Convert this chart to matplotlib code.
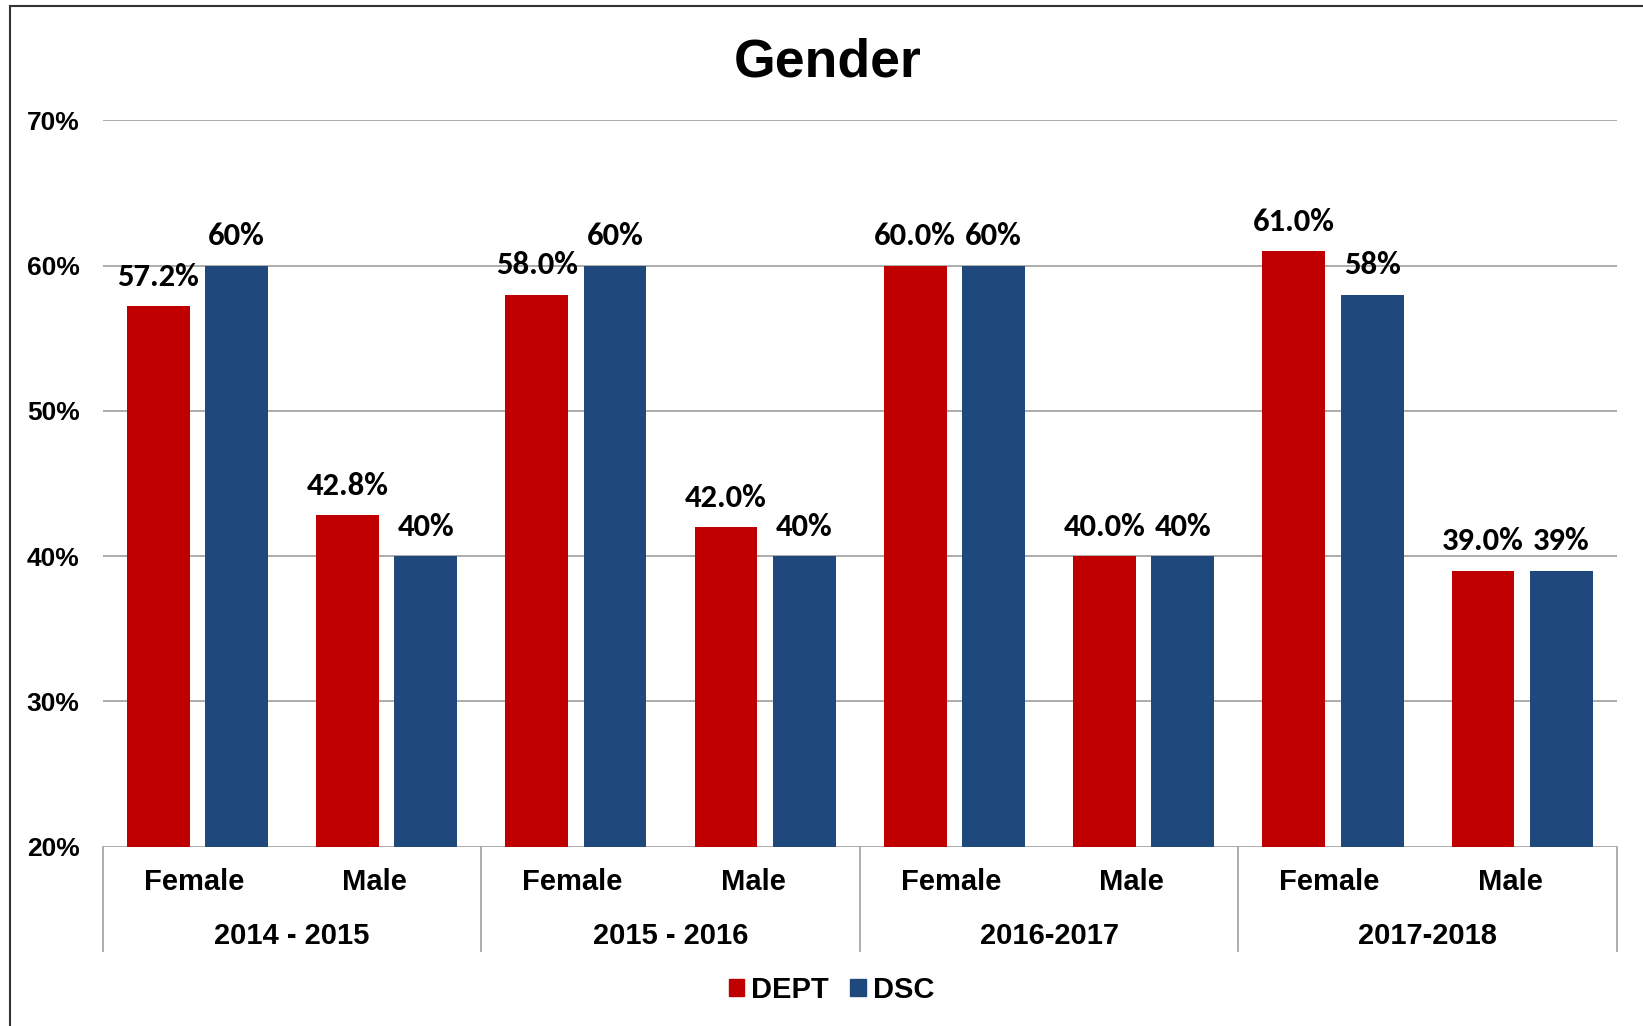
import matplotlib
matplotlib.use("Agg")
import matplotlib.pyplot as plt
from matplotlib.patches import Patch, Rectangle
from matplotlib.lines import Line2D
import numpy as np

years = ["2014 - 2015", "2015 - 2016", "2016-2017", "2017-2018"]
genders = ["Female", "Male"]
dept = [57.2, 42.8, 58.0, 42.0, 60.0, 40.0, 61.0, 39.0]
dsc = [60, 40, 60, 40, 60, 40, 58, 39]
dept_labels = ["57.2%", "42.8%", "58.0%", "42.0%", "60.0%", "40.0%", "61.0%", "39.0%"]
dsc_labels = ["60%", "40%", "60%", "40%", "60%", "40%", "58%", "39%"]

red = "#C00000"
blue = "#1F497D"
grid_c = "#A6A6A6"
arial = ["Liberation Sans", "DejaVu Sans"]
calibri = ["Carlito", "Lato", "DejaVu Sans"]

fig = plt.figure(figsize=(16.43, 10.26), dpi=100)
ax = fig.add_axes([0.0625, 0.1749, 0.9216, 0.7077])

x = np.arange(len(dept))
off = 0.207
w = 0.332
ax.bar(x - off, [v - 20 for v in dept], w, bottom=20, color=red, zorder=3)
ax.bar(x + off, [v - 20 for v in dsc], w, bottom=20, color=blue, zorder=3)

for i in range(len(x)):
    ax.annotate(dept_labels[i], (x[i] - off, dept[i]), xytext=(0, 14.6),
                textcoords="offset points", ha="center", va="baseline",
                fontsize=23.5, fontweight="bold", family=calibri)
    ax.annotate(dsc_labels[i], (x[i] + off, dsc[i]), xytext=(0, 14.6),
                textcoords="offset points", ha="center", va="baseline",
                fontsize=23.5, fontweight="bold", family=calibri)

ax.set_xlim(-0.5, len(x) - 0.5)
ax.set_ylim(20, 70)
ax.set_yticks([20, 30, 40, 50, 60, 70])
ax.set_yticklabels([f"{t}%" for t in [20, 30, 40, 50, 60, 70]],
                   fontsize=19, fontweight="bold", family=arial)
ax.tick_params(axis="y", length=0, pad=16.6)
ax.set_xticks([])
for s in ax.spines.values():
    s.set_visible(False)
ax.yaxis.grid(True, color=grid_c, linewidth=1.3, zorder=0)
ax.set_axisbelow(True)

# Excel nudges the gender labels a bit to the left
label_shift = [-0.019, -0.064]
trans = ax.get_xaxis_transform()
for i in range(len(x)):
    ax.text(x[i] + label_shift[i % 2], -0.049, genders[i % 2], transform=trans,
            ha="center", va="center", fontsize=21, fontweight="bold", family=arial)
for j, yr in enumerate(years):
    ax.text(2 * j + 0.5, -0.123, yr, transform=trans, ha="center", va="center",
            fontsize=21, fontweight="bold", family=arial)
for k in range(len(years) + 1):
    ax.add_line(Line2D([2 * k - 0.5, 2 * k - 0.5], [0, -0.1438], transform=trans,
                       color=grid_c, linewidth=1.3, clip_on=False))

fig.text(0.504, 0.939, "Gender", ha="center", va="center",
         fontsize=38.5, fontweight="bold", family=arial)

handles = [Patch(color=red, label="DEPT"), Patch(color=blue, label="DSC")]
leg = fig.legend(handles=handles, loc="center", bbox_to_anchor=(0.506, 0.035), ncol=2,
                 frameon=False, handlelength=0.52, handleheight=0.52,
                 handletextpad=0.24, columnspacing=0.75,
                 prop={"family": arial, "weight": "bold", "size": 21})

# outer chart border (cropped on right/bottom)
fig.add_artist(Rectangle((0.0058, -0.5), 1.5, 0.5 + 0.9942, transform=fig.transFigure,
                         fill=False, edgecolor="#333333", linewidth=1.5))

fig.savefig("out.png", dpi=100, facecolor="white")
